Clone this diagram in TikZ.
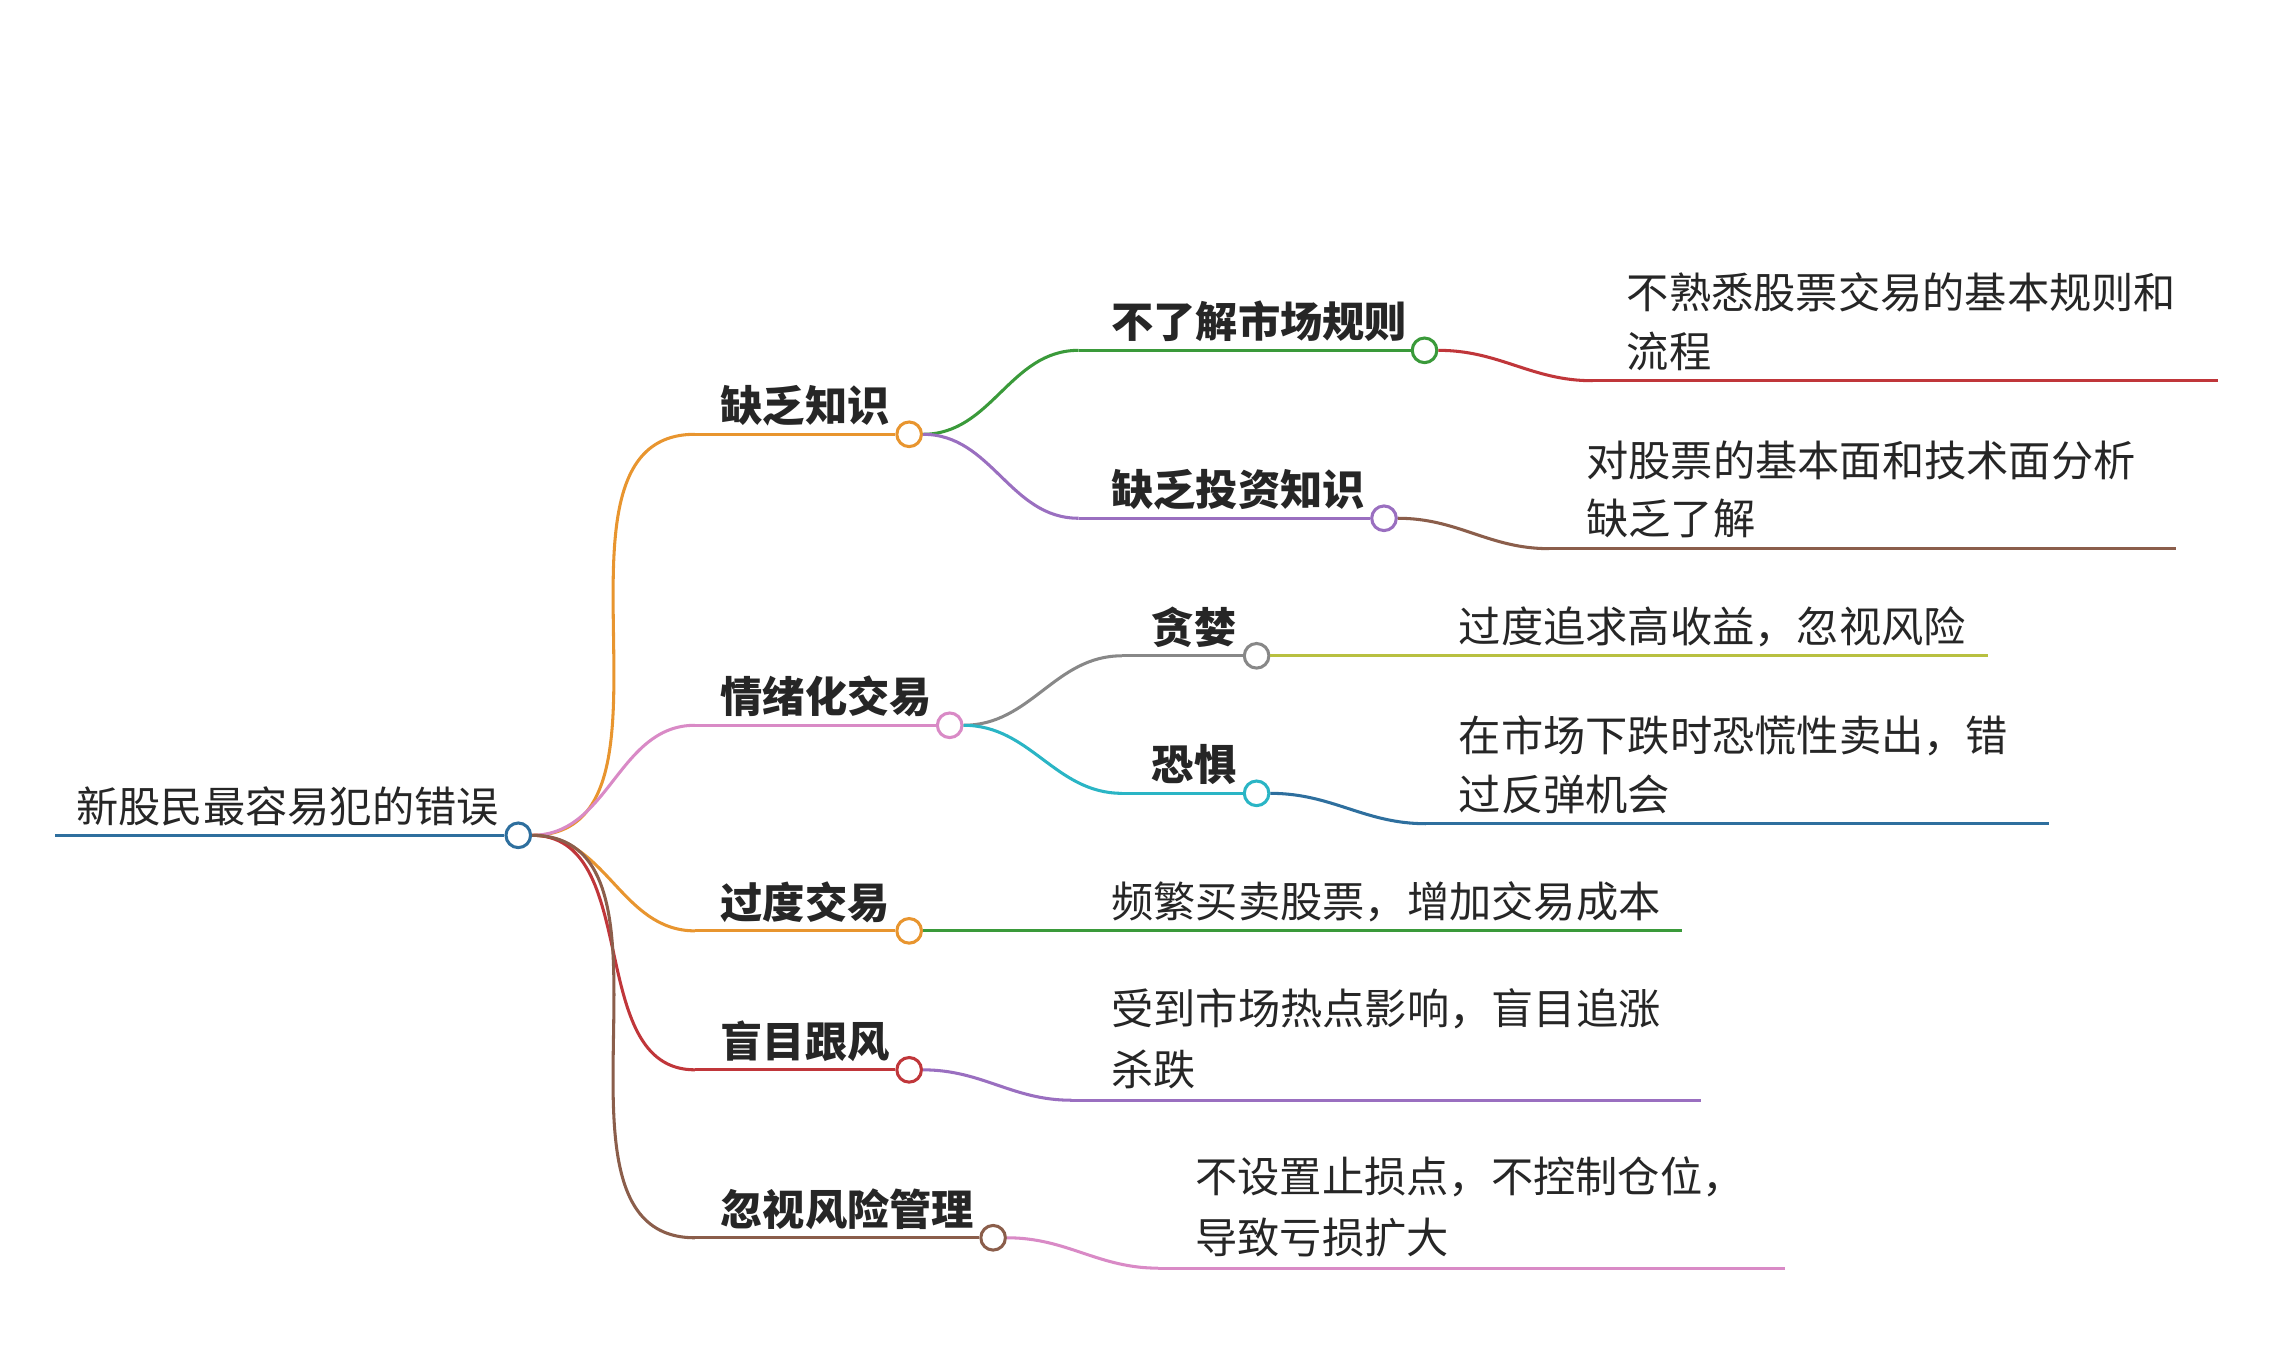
\documentclass[tikz,border=0pt]{standalone}
\usepackage{fontspec}
\setmainfont{Noto Sans CJK SC}
\usetikzlibrary{positioning}
\definecolor{cRoot}{HTML}{2E6F9E}
\definecolor{cOrange}{HTML}{E8952F}
\definecolor{cPink}{HTML}{D98AC6}
\definecolor{cGreen}{HTML}{3A9A3A}
\definecolor{cPurple}{HTML}{9A6FC0}
\definecolor{cRed}{HTML}{C0363A}
\definecolor{cBrown}{HTML}{8B5E4B}
\definecolor{cGray}{HTML}{888888}
\definecolor{cCyan}{HTML}{2AB5C5}
\definecolor{cOlive}{HTML}{B8C040}
\tikzset{
  dot/.style={circle,draw=#1,fill=white,line width=0.6pt,minimum size=0.17cm,inner sep=0pt},
  branch/.style={line width=0.6pt,draw=#1},
  label/.style={anchor=west,inner sep=0pt,font=\fontsize{8.3}{12}\selectfont,text=black!85},
  topic/.style={label,font=\fontsize{8.3}{12}\selectfont\bfseries},
}
\newcommand{\twig}[3]{% start, end, colour
  \draw[branch=#3](#1)to[out=0,in=180](#2);}
\begin{document}
\begin{tikzpicture}[x=.01cm,y=-.01cm]
		\useasboundingbox(0,0)rectangle(1568,931);
		% root
		\coordinate(R0)at(38,577);
		\node[dot=cRoot](R)at(358,577){};
		\node[label]at(52,557){新股民最容易犯的错误};
		% level one
		\coordinate(A0)at(480,300);\node[dot=cOrange](A)at(628,300){};
		\coordinate(B0)at(480,501);\node[dot=cPink](B)at(656,501){};
		\coordinate(C0)at(480,643);\node[dot=cOrange](C)at(628,643){};
		\coordinate(D0)at(480,739);\node[dot=cRed](D)at(628,739){};
		\coordinate(E0)at(480,855);\node[dot=cBrown](E)at(686,855){};
		\twig{R}{A0}{cOrange}\draw[branch=cOrange](A0)--(A);
		\twig{R}{B0}{cPink}\draw[branch=cPink](B0)--(B);
		\twig{R}{C0}{cOrange}\draw[branch=cOrange](C0)--(C);
		\twig{R}{D0}{cRed}\draw[branch=cRed](D0)--(D);
		\twig{R}{E0}{cBrown}\draw[branch=cBrown](E0)--(E);
		\draw[branch=cRoot](R0)--(R);
		\node[topic]at(497,280){缺乏知识};
		\node[topic]at(497,481){情绪化交易};
		\node[topic]at(497,623){过度交易};
		\node[topic]at(497,719){盲目跟风};
		\node[topic]at(497,835){忽视风险管理};
		% level two
		\coordinate(A10)at(745,242);\node[dot=cGreen](A1)at(984,242){};
		\coordinate(A20)at(745,358);\node[dot=cPurple](A2)at(956,358){};
		\coordinate(B10)at(775,453);\node[dot=cGray](B1)at(868,453){};
		\coordinate(B20)at(775,548);\node[dot=cCyan](B2)at(868,548){};
		\twig{A}{A10}{cGreen}\draw[branch=cGreen](A10)--(A1);
		\twig{A}{A20}{cPurple}\draw[branch=cPurple](A20)--(A2);
		\twig{B}{B10}{cGray}\draw[branch=cGray](B10)--(B1);
		\twig{B}{B20}{cCyan}\draw[branch=cCyan](B20)--(B2);
		\node[topic]at(767,222){不了解市场规则};
		\node[topic]at(767,338){缺乏投资知识};
		\node[topic]at(795,433){贪婪};
		\node[topic]at(795,528){恐惧};
		% leaves
		\coordinate(L1)at(1100,263);\coordinate(L1e)at(1532,263);
		\coordinate(L2)at(1070,379);\coordinate(L2e)at(1503,379);
		\coordinate(L3e)at(1373,453);
		\coordinate(L4)at(985,569);\coordinate(L4e)at(1415,569);
		\coordinate(L5e)at(1162,643);
		\coordinate(L6)at(740,760);\coordinate(L6e)at(1175,760);
		\coordinate(L7)at(800,876);\coordinate(L7e)at(1233,876);
		\twig{A1}{L1}{cRed}\draw[branch=cRed](L1)--(L1e);
		\twig{A2}{L2}{cBrown}\draw[branch=cBrown](L2)--(L2e);
		\draw[branch=cOlive](B1)--(L3e);
		\twig{B2}{L4}{cRoot}\draw[branch=cRoot](L4)--(L4e);
		\draw[branch=cGreen](C)--(L5e);
		\twig{D}{L6}{cPurple}\draw[branch=cPurple](L6)--(L6e);
		\twig{E}{L7}{cPink}\draw[branch=cPink](L7)--(L7e);
		\node[label]at(1123,202){不熟悉股票交易的基本规则和};
		\node[label]at(1123,243){流程};
		\node[label]at(1095,318){对股票的基本面和技术面分析};
		\node[label]at(1095,358){缺乏了解};
		\node[label]at(1007,433){过度追求高收益，忽视风险};
		\node[label]at(1007,508){在市场下跌时恐慌性卖出，错};
		\node[label]at(1007,549){过反弹机会};
		\node[label]at(767,623){频繁买卖股票，增加交易成本};
		\node[label]at(767,697){受到市场热点影响，盲目追涨};
		\node[label]at(767,739){杀跌};
		\node[label]at(825,813){不设置止损点，不控制仓位，};
		\node[label]at(825,855){导致亏损扩大};
		\end{tikzpicture}
\end{document}
